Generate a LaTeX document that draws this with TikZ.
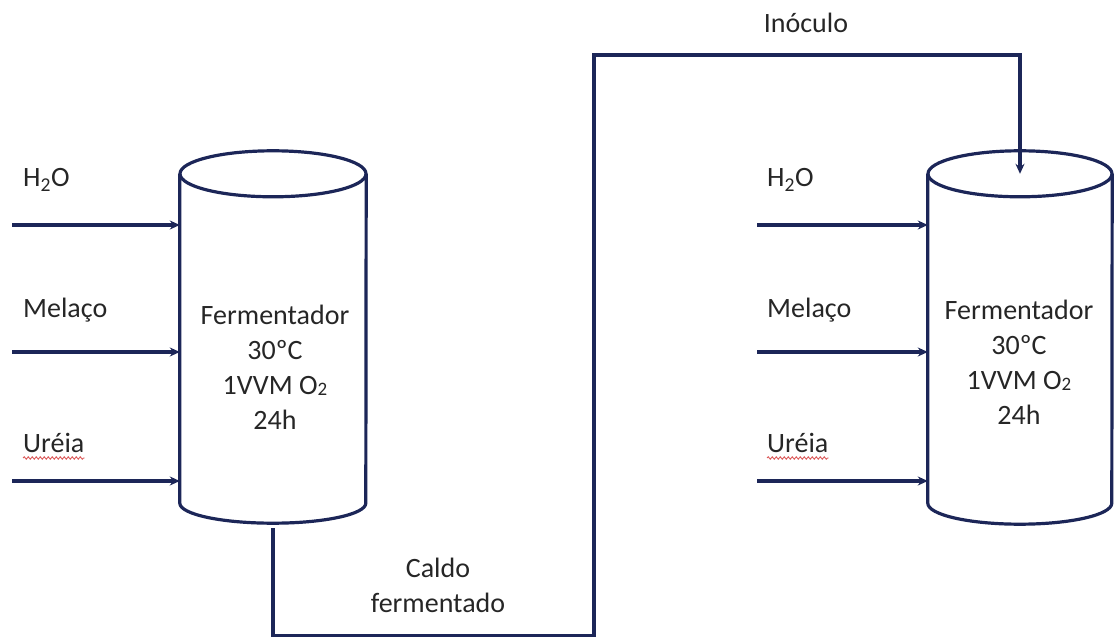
\documentclass[tikz,border=0pt]{standalone}
\usepackage{fontspec}
\setmainfont{Carlito}
\usetikzlibrary{arrows.meta,decorations.pathmorphing}
\definecolor{pipeblue}{RGB}{28,38,88}
\definecolor{inktext}{RGB}{38,38,38}
\definecolor{spellred}{RGB}{220,90,90}
\newcommand{\subtwo}{\raisebox{-1pt}{\fontsize{19}{20}\selectfont 2}}
\tikzset{
  pipe/.style={draw=pipeblue, line width=3.2pt},
  feed/.style={pipe, -{Stealth[length=10pt,width=9pt]}},
  vessel/.style={rectangle, inner sep=0pt, minimum height=329pt},
  lbl/.style={anchor=base west, inner sep=0pt, text=inktext, font=\fontsize{28}{34}\selectfont},
  inside/.style={align=center, text=inktext, font=\fontsize{28}{35}\selectfont},
  squiggle/.style={draw=spellred, line width=0.9pt, decorate, decoration={snake, amplitude=1.2pt, segment length=4pt}},
}
\begin{document}
\begin{tikzpicture}[x=1pt,y=1pt]
  \useasboundingbox (0,0) rectangle (1120,637);
  % the two fermenters
  \node[vessel, minimum width=186pt] (ferm1) at (273,298.5) {};
  \node[vessel, minimum width=184pt] (ferm2) at (1020,298.5) {};
  \draw[pipe] (ferm1.north west) -- (ferm1.south west) arc[start angle=180, end angle=360, x radius=93, y radius=20] -- (ferm1.north east);
  \draw[pipe] (ferm1.north) ellipse[x radius=93, y radius=23];
  \draw[pipe] (ferm2.north west) -- (ferm2.south west) arc[start angle=180, end angle=360, x radius=92, y radius=21] -- (ferm2.north east);
  \draw[pipe] (ferm2.north) ellipse[x radius=92, y radius=23];
  \node[inside] (spec1) at (275,270) {Fermentador\\30ºC\\1VVM O\subtwo\\24h};
  \node[inside] (spec2) at (1019,275) {Fermentador\\30ºC\\1VVM O\subtwo\\24h};

  % feeds, left
  \coordinate (h2oL) at (12,412);
  \coordinate (melL) at (12,285);
  \coordinate (ureL) at (12,156);
  \draw[feed] (h2oL) -- (h2oL -| ferm1.west);
  \draw[feed] (melL) -- (melL -| ferm1.west);
  \draw[feed] (ureL) -- (ureL -| ferm1.west);
  \node[lbl] (h2oLtxt) at (23,450) {H\textsubscript{2}O};
  \node[lbl] (melLtxt) at (23,319) {Melaço};
  \node[lbl] (ureLtxt) at (23,184) {Uréia};
  \draw[squiggle] ([yshift=-5pt]ureLtxt.base west) -- ([yshift=-5pt]ureLtxt.base east);

  % feeds, right
  \coordinate (h2oR) at (757,412);
  \coordinate (melR) at (757,285);
  \coordinate (ureR) at (757,156);
  \draw[feed] (h2oR) -- (h2oR -| ferm2.west);
  \draw[feed] (melR) -- (melR -| ferm2.west);
  \draw[feed] (ureR) -- (ureR -| ferm2.west);
  \node[lbl] (h2oRtxt) at (767,450) {H\textsubscript{2}O};
  \node[lbl] (melRtxt) at (767,319) {Melaço};
  \node[lbl] (ureRtxt) at (767,184) {Uréia};
  \draw[squiggle] ([yshift=-5pt]ureRtxt.base west) -- ([yshift=-5pt]ureRtxt.base east);

  % transfer line
  \draw[feed] ([yshift=-25pt]ferm1.south) -- ++(0,-107) -| (594,582) -| (ferm2.north);
  \node[inside] (caldo) at (438,52) {Caldo\\fermentado};
  \node[lbl, anchor=base] (inoc) at (806,604) {Inóculo};
\end{tikzpicture}
\end{document}
